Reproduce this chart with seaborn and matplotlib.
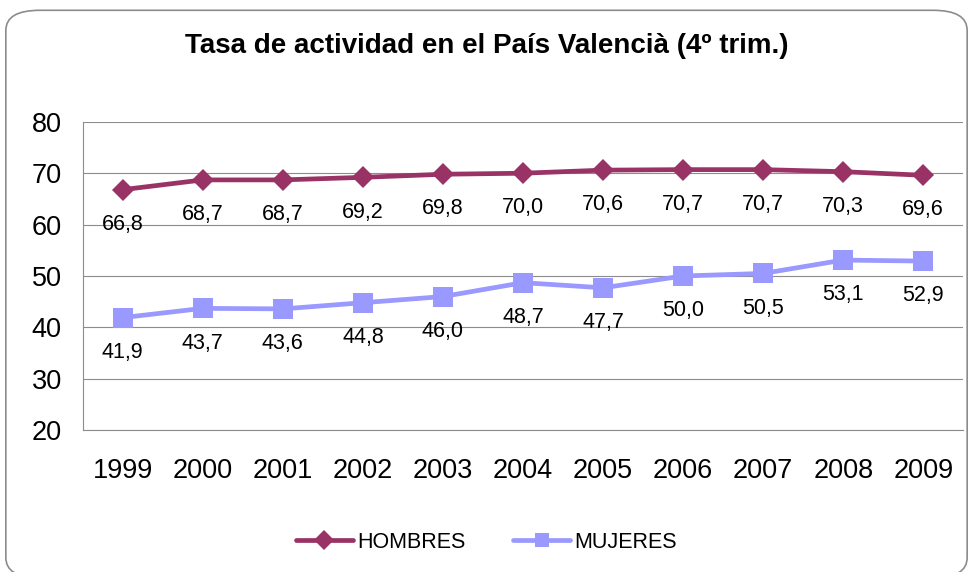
import matplotlib
matplotlib.use('Agg')
import matplotlib.pyplot as plt
from matplotlib.patches import FancyBboxPatch
import seaborn as sns
import pandas as pd

years = ['1999', '2000', '2001', '2002', '2003', '2004', '2005', '2006', '2007', '2008', '2009']
hombres = [66.8, 68.7, 68.7, 69.2, 69.8, 70.0, 70.6, 70.7, 70.7, 70.3, 69.6]
mujeres = [41.9, 43.7, 43.6, 44.8, 46.0, 48.7, 47.7, 50.0, 50.5, 53.1, 52.9]
series_names = ['HOMBRES', 'MUJERES']
colors = ['#993366', '#9999FF']

sns.set_style('white')
plt.rcParams['font.family'] = ['Liberation Sans', 'DejaVu Sans']
plt.rcParams['text.color'] = 'black'
plt.rcParams['xtick.labelcolor'] = 'black'
plt.rcParams['ytick.labelcolor'] = 'black'

df = pd.DataFrame({
    'pos': list(range(len(years))) * 2,
    'valor': hombres + mujeres,
    'serie': [series_names[0]] * len(years) + [series_names[1]] * len(years),
})

fig = plt.figure(figsize=(9.73, 5.72), dpi=100)
ax = fig.add_axes([0.085, 0.248, 0.905, 0.539])

sns.lineplot(data=df, x='pos', y='valor', hue='serie', style='serie',
             palette=dict(zip(series_names, colors)),
             markers={'HOMBRES': 'D', 'MUJERES': 's'}, dashes=False,
             markersize=10, linewidth=3.4, markeredgewidth=0, ax=ax, legend=True)
# diamond a bit smaller than the square
for line, ms in zip(ax.lines[:2], [11, 14]):
    line.set_markersize(ms)

for vals in (hombres, mujeres):
    for i, v in enumerate(vals):
        ax.annotate(f'{v:.1f}'.replace('.', ','), (i, v), xytext=(0, -25), color='black',
                    textcoords='offset points', ha='center', va='center', fontsize=15.5)

ax.set_xlim(-0.5, len(years) - 0.5)
ax.set_ylim(20, 80)
ax.set_yticks(range(20, 81, 10))
ax.yaxis.grid(True, color='#8c8c8c', linewidth=0.8)
ax.set_axisbelow(True)
ax.set_xticks([i - 0.5 for i in range(len(years) + 1)])
ax.set_xticklabels([])
ax.set_xticks(range(len(years)), minor=True)
ax.set_xticklabels(years, minor=True, fontsize=19.5, color='black')
ax.tick_params(axis='x', which='major', direction='out', length=5.5, color='#8c8c8c', width=0.8)
ax.tick_params(axis='x', which='minor', length=0, pad=20)
ax.tick_params(axis='y', direction='out', length=6, color='#8c8c8c', width=0.8, labelsize=19.5, pad=9,
               labelcolor='black')
ax.set_xlabel('')
ax.set_ylabel('')
for side in ['top', 'right']:
    ax.spines[side].set_visible(False)
for side in ['left', 'bottom']:
    ax.spines[side].set_color('#8c8c8c')
    ax.spines[side].set_linewidth(0.8)

handles, labels = ax.get_legend_handles_labels()
leg = ax.legend(handles, labels, loc='center', bbox_to_anchor=(0.5, 0.052), bbox_transform=fig.transFigure,
                ncol=2, frameon=False, fontsize=15.5, handlelength=2.65, columnspacing=2.2, handletextpad=0.2)
for t in leg.get_texts():
    t.set_color('black')

fig.suptitle('Tasa de actividad en el País Valencià (4º trim.)', fontsize=20, fontweight='bold',
             y=0.92, va='center', color='black')

border = FancyBboxPatch((0.006, -0.01), 0.988, 0.992, boxstyle='round,pad=0,rounding_size=0.035',
                        transform=fig.transFigure, fill=False, edgecolor='#8c8c8c', linewidth=1.2)
fig.patches.append(border)

fig.savefig('out.png', dpi=100)
